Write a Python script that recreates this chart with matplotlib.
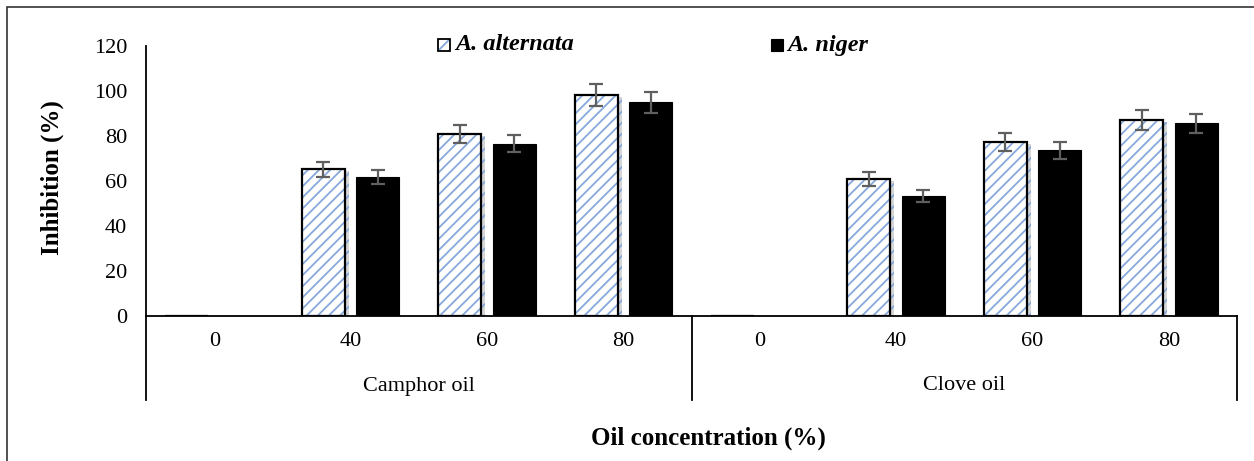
import numpy as np
import matplotlib
matplotlib.use('Agg')
import matplotlib.pyplot as plt
import matplotlib.patheffects as pe
from matplotlib.patches import Rectangle

plt.rcParams['font.family'] = ['Liberation Serif', 'DejaVu Serif']
plt.rcParams['hatch.linewidth'] = 1.3

# data
groups = ["Camphor oil", "Clove oil"]
concentrations = ["0", "40", "60", "80"]
alternata = [0, 65.3, 80.9, 98.4, 0, 60.9, 77.3, 87.2]
alternata_err = [0, 3.3, 4.0, 4.9, 0, 3.0, 3.9, 4.4]
niger = [0, 61.6, 76.6, 95.0, 0, 53.3, 73.7, 85.6]
niger_err = [0, 3.1, 3.9, 4.7, 0, 2.7, 3.7, 4.3]
series_names = ["A. alternata", "A. niger"]

W, H = 1254, 461
fig = plt.figure(figsize=(W / 100, H / 100), dpi=100)
ax = fig.add_axes([146 / W, (H - 316) / H, (1237 - 146) / W, 270 / H])

x = np.arange(len(alternata))
bw = 0.315
off = 0.2
blue = '#86a8dc'

shadow = [pe.SimplePatchShadow(offset=(3, -1.5), shadow_rgbFace='#999999', alpha=0.4), pe.Normal()]

# hatched bars (with soft shadow), black outline drawn on top
hb = ax.bar(x - off, alternata, bw, color='white', edgecolor=blue, hatch='///', linewidth=0, zorder=2)
for r in hb:
    if r.get_height() > 0:
        r.set_path_effects(shadow)
ax.bar(x - off, alternata, bw, fill=False, edgecolor='black', linewidth=1.6, zorder=3)
ax.bar(x + off, niger, bw, color='black', edgecolor='black', linewidth=0.8, zorder=3)

ekw = dict(fmt='none', ecolor='#5f5f5f', elinewidth=1.6, capsize=5, capthick=1.6, zorder=4)
m = np.array(alternata) > 0
ax.errorbar((x - off)[m], np.array(alternata)[m], yerr=np.array(alternata_err)[m], **ekw)
m = np.array(niger) > 0
ax.errorbar((x + off)[m], np.array(niger)[m], yerr=np.array(niger_err)[m], **ekw)

ax.set_xlim(-0.5, len(x) - 0.5)
ax.set_ylim(0, 120)
ax.set_yticks(np.arange(0, 121, 20))
ax.tick_params(axis='y', length=0, labelsize=16, pad=13.5)
ax.set_xticks([])
for s in ['top', 'right', 'left']:
    ax.spines[s].set_visible(False)
ax.spines['bottom'].set_linewidth(1.3)

# multi-level category axis
trans = ax.get_xaxis_transform()
ybot = -84 / 270
ax.plot([-0.5, -0.5], [ybot, 1.0], transform=trans, color='black', lw=1.3, clip_on=False)
for xs in [3.5, len(x) - 0.5]:
    ax.plot([xs, xs], [ybot, 0], transform=trans, color='black', lw=1.3, clip_on=False)
labels = concentrations * len(groups)
for i, lab in enumerate(labels):
    ax.text(i, -25 / 270, lab, transform=trans, ha='center', va='center', fontsize=16)
for g, name in enumerate(groups):
    ax.text(g * 4 + 1.5, -70 / 270, name, transform=trans, ha='center', va='center', fontsize=16)

fig.text(52 / W, 1 - 178 / H, 'Inhibition (%)', rotation=90, ha='center', va='center',
         fontsize=18, fontweight='bold')
fig.text(708 / W, 1 - 438 / H, 'Oil concentration (%)', ha='center', va='center',
         fontsize=18, fontweight='bold')

# legend drawn by hand: square marker + label
leg_font = dict(fontsize=17.5, fontweight='bold', style='italic', ha='left', va='center')
fig.add_artist(Rectangle((438 / W, 1 - 51 / H), 12 / W, 12 / H, transform=fig.transFigure,
                         facecolor='white', edgecolor=blue, hatch='///', lw=0))
fig.add_artist(Rectangle((438 / W, 1 - 51 / H), 12 / W, 12 / H, transform=fig.transFigure,
                         fill=False, edgecolor='black', lw=1.3))
fig.text(455 / W, 1 - 45 / H, series_names[0], **leg_font)
fig.add_artist(Rectangle((771 / W, 1 - 51 / H), 12 / W, 12 / H, transform=fig.transFigure,
                         facecolor='black', edgecolor='black', lw=0.8))
fig.text(787 / W, 1 - 45 / H, series_names[1], **leg_font)

# outer frame (left and top edges visible)
fig.add_artist(Rectangle((7 / W, -0.05), 1.2, 1 - 7 / H + 0.05, transform=fig.transFigure,
                         fill=False, edgecolor='#333333', lw=1.2))

fig.savefig('out.png', dpi=100)
